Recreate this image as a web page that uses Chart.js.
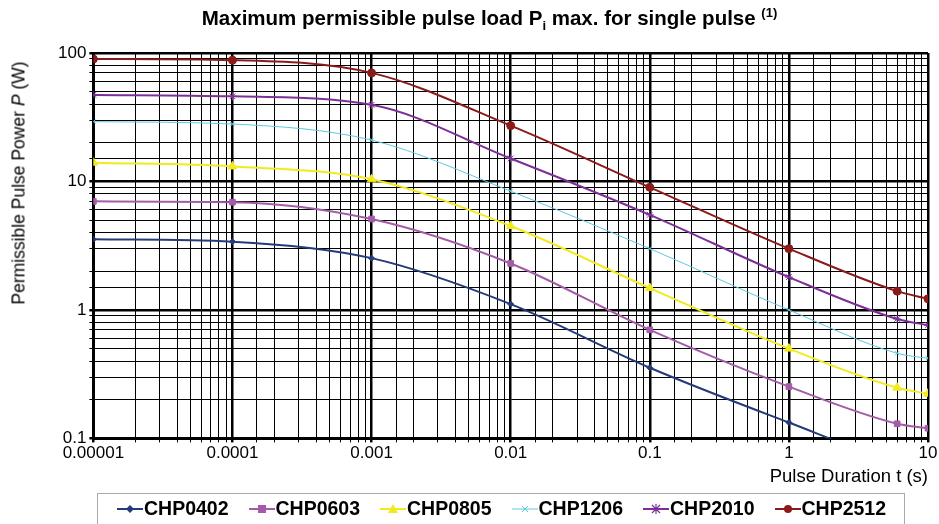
<!DOCTYPE html>
<html>
<head>
<meta charset="utf-8">
<script src="https://cdn.jsdelivr.net/npm/chart.js@4"></script>
<style>
  body { margin: 0; background: #fff; font-family: "Liberation Sans", Arial, sans-serif; }
  #wrap { position: relative; width: 939px; height: 524px; overflow: hidden; }
  #title { position: absolute; top: 5px; left: 40px; width: 899px; text-align: center;
           font-weight: bold; font-size: 20.5px; color: #000; }
  #title sub, #title sup { font-size: 13px; }
  #ytitle { position: absolute; left: 19px; top: 183px; transform: translate(-50%, -50%) rotate(-90deg);
            white-space: nowrap; font-size: 17.5px; color: #000; }
  #legend { position: absolute; left: 97px; top: 493px; width: 808px; height: 34px;
            border: 1px solid #aaa; box-sizing: border-box; display: flex;
            align-items: center; padding-left: 19px; padding-bottom: 3px; }
  .item { display: flex; align-items: center; font-weight: bold; font-size: 19.5px;
          width: 131.5px; flex: none; }
  .item svg { margin-right: 1px; }
</style>
</head>
<body>
<div id="wrap">
  <canvas id="myChart"></canvas>
  <div id="title">Maximum permissible pulse load P<sub>i</sub> max. for single pulse <sup>(1)</sup></div>
  <div id="ytitle">Permissible Pulse Power <i>P</i> (W)</div>
  <div id="legend"></div>
</div>
<script>
'use strict';

// pulse duration (s)
const durations = [0.00001, 0.0001, 0.001, 0.01, 0.1, 1, 6, 10];

// permissible power (W) per type
const chp0402 = [3.55, 3.4, 2.53, 1.11, 0.355, 0.133, 0.065, 0.058];
const chp0603 = [7.0, 6.9, 5.1, 2.3, 0.70, 0.253, 0.13, 0.12];
const chp0805 = [14.0, 13.1, 10.4, 4.5, 1.48, 0.50, 0.248, 0.223];
const chp1206 = [29.2, 28.0, 21.0, 8.4, 3.0, 1.0, 0.46, 0.42];
const chp2010 = [47.2, 46.0, 39.5, 15.1, 5.5, 1.8, 0.85, 0.76];
const chp2512 = [89.8, 88.0, 70.0, 27.2, 9.0, 3.0, 1.4, 1.22];

const seriesNames = ['CHP0402', 'CHP0603', 'CHP0805', 'CHP1206', 'CHP2010', 'CHP2512'];

const xTickLabels = ['0.00001', '0.0001', '0.001', '0.01', '0.1', '1', '10'];
const yTickLabels = ['0.1', '1', '10', '100'];

function pts(values) {
  return durations.map((d, i) => ({x: d, y: values[i]}));
}

function isDecade(v) {
  const l = Math.log10(v);
  return Math.abs(l - Math.round(l)) < 1e-6;
}

const styles = [
  {color: '#253a7a', marker: 'rectRot', r: 3, w: 2},
  {color: '#a45ca9', marker: 'rect', r: 4, w: 2},
  {color: '#f2ea1c', marker: 'triangle', r: 5, w: 2},
  {color: '#5ccadc', marker: 'crossRot', r: 3, w: 1},
  {color: '#7d2f97', marker: 'star', r: 4, w: 2},
  {color: '#8b1a1a', marker: 'circle', r: 4, w: 2},
];
const allSeries = [chp0402, chp0603, chp0805, chp1206, chp2010, chp2512];

const datasets = allSeries.map((vals, i) => ({
  label: seriesNames[i],
  data: pts(vals),
  borderColor: styles[i].color,
  backgroundColor: styles[i].color,
  borderWidth: styles[i].w,
  pointStyle: styles[i].marker,
  pointRadius: styles[i].r,
  pointBorderWidth: 1,
  tension: 0.4,
  cubicInterpolationMode: 'monotone',
}));

new Chart(document.querySelector('#myChart'), {
  type: 'line',
  data: {datasets: datasets},
  options: {
    responsive: true,
    maintainAspectRatio: false,
    animation: false,
    layout: {padding: {top: 53, bottom: 36, left: 55, right: 11}},
    plugins: {
      legend: {display: false},
      tooltip: {enabled: false},
    },
    scales: {
      x: {
        type: 'logarithmic',
        min: 0.00001,
        max: 10,
        border: {color: '#000', width: 3},
        grid: {
          color: '#000',
          lineWidth: (ctx) => (ctx.tick && isDecade(ctx.tick.value) ? 2.5 : 1),
          tickLength: 4,
        },
        ticks: {
          autoSkip: false,
          maxRotation: 0,
          color: '#000',
          font: {family: 'Liberation Sans', size: 17},
          padding: 1,
          callback: (v) => isDecade(v) ? xTickLabels[Math.round(Math.log10(v)) + 5] : '',
        },
        title: {
          display: true,
          text: 'Pulse Duration t (s)',
          align: 'end',
          color: '#000',
          font: {family: 'Liberation Sans', size: 18.5},
          padding: {top: 1, bottom: 0},
        },
      },
      y: {
        type: 'logarithmic',
        min: 0.1,
        max: 100,
        border: {color: '#000', width: 3},
        grid: {
          color: '#000',
          lineWidth: (ctx) => (ctx.tick && isDecade(ctx.tick.value) ? 2.5 : 1),
          tickLength: 4,
        },
        ticks: {
          autoSkip: false,
          color: '#000',
          font: {family: 'Liberation Sans', size: 17},
          padding: 3,
          callback: (v) => isDecade(v) ? yTickLabels[Math.round(Math.log10(v)) + 1] : '',
        },
      },
    },
  },
});

// legend: line with the series marker, then the name
const legend = document.querySelector('#legend');
const markerSvg = {
  rectRot: (c) => `<polygon points="13,4 17,8 13,12 9,8" fill="${c}"/>`,
  rect: (c) => `<rect x="9" y="4" width="8" height="8" fill="${c}"/>`,
  triangle: (c) => `<polygon points="13,3 18,12 8,12" fill="${c}"/>`,
  crossRot: (c) => `<path d="M10,5 L16,11 M16,5 L10,11" stroke="${c}" stroke-width="1"/>`,
  star: (c) => `<path d="M9,4 L17,12 M17,4 L9,12 M13,3 L13,13" stroke="${c}" stroke-width="1.2"/>`,
  circle: (c) => `<circle cx="13" cy="8" r="4" fill="${c}"/>`,
};
seriesNames.forEach((name, i) => {
  const s = styles[i];
  const el = document.createElement('div');
  el.className = 'item';
  el.innerHTML = `<svg width="26" height="16"><line x1="0" y1="8" x2="26" y2="8" stroke="${s.color}" stroke-width="${s.w}"/>${markerSvg[s.marker](s.color)}</svg>${name}`;
  legend.appendChild(el);
});
</script>
</body>
</html>
